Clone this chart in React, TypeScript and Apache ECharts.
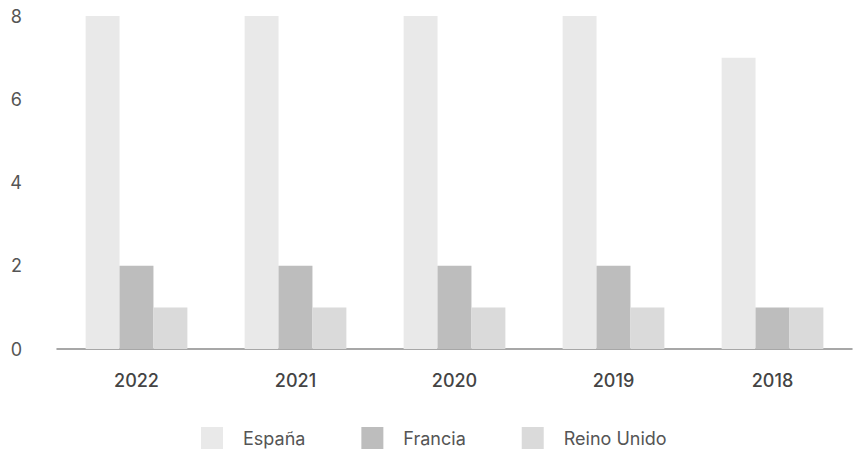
import React, { useEffect, useRef } from "react";
import * as echarts from "echarts";

const categories = ["2022", "2021", "2020", "2019", "2018"];
const espana = [8, 8, 8, 8, 7];
const francia = [2, 2, 2, 2, 1];
const reinoUnido = [1, 1, 1, 1, 1];
const yTicks = [0, 2, 4, 6, 8];

export default function App() {
  const ref = useRef<HTMLDivElement>(null);
  useEffect(() => {
    if (!ref.current) return;
    const chart = echarts.init(ref.current, null, { renderer: "svg" });
    const font = "Inter, 'Liberation Sans', sans-serif";
    chart.setOption({
      animation: false,
      textStyle: { fontFamily: font },
      grid: { left: 57, right: 9, top: 16, bottom: 104, containLabel: false },
      legend: {
        bottom: 4,
        left: 201,
        padding: 0,
        itemWidth: 22,
        itemHeight: 22,
        itemGap: 56,
        icon: "rect",
        textStyle: { fontSize: 18, color: "#555", fontFamily: font, padding: [0, 0, 0, 15] },
        data: ["España", "Francia", "Reino Unido"],
      },
      xAxis: {
        type: "category",
        data: categories,
        axisLine: { lineStyle: { color: "#8a8a8a", width: 1.5 } },
        axisTick: { show: false },
        axisLabel: { fontSize: 18, color: "#444", fontWeight: 500, margin: 22, fontFamily: font },
      },
      yAxis: {
        type: "value",
        min: yTicks[0],
        max: yTicks[yTicks.length - 1],
        interval: 2,
        splitLine: { show: false },
        axisLine: { show: false },
        axisTick: { show: false },
        axisLabel: { fontSize: 18, color: "#555", margin: 35, fontFamily: font },
      },
      series: [
        { name: "España", type: "bar", data: espana, itemStyle: { color: "#e9e9e9" }, barGap: "0%", barCategoryGap: "36%" },
        { name: "Francia", type: "bar", data: francia, itemStyle: { color: "#bdbdbd" }, barGap: "0%", barCategoryGap: "36%" },
        { name: "Reino Unido", type: "bar", data: reinoUnido, itemStyle: { color: "#dadada" }, barGap: "0%", barCategoryGap: "36%" },
      ],
    });
    return () => chart.dispose();
  }, []);
  return <div ref={ref} style={{ position: "absolute", left: 0, top: 0, width: 861, height: 453 }} />;
}
